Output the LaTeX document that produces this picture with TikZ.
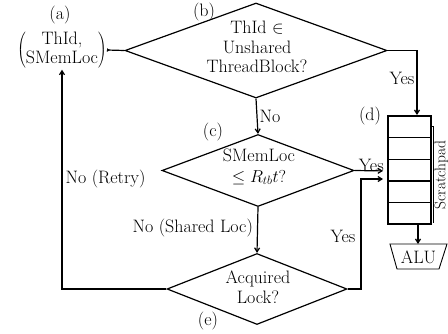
\documentclass[tikz,border=0pt]{standalone}
\usetikzlibrary{shapes.geometric,arrows.meta}
\begin{document}
\begin{tikzpicture}[x=1pt,y=-1pt,
  every node/.style={font=\fontsize{18}{19.5}\selectfont, inner sep=0pt},
  conn/.style={line width=1.2pt},
  arr/.style={conn,-{Straight Barb[length=4pt,width=5pt]}},
  dia/.style={diamond,draw,line width=1.2pt,align=center},
  lbl/.style={font=\fontsize{18}{19}\selectfont}]
\useasboundingbox (0,0) rectangle (448,333);
% node a
\node (a) at (62,50) {$\left(\begin{tabular}{@{}c@{}}ThId,\\SMemLoc\end{tabular}\right)$};
\node[lbl] (la) at (60,15) {(a)};
% diamond b
\node[dia,minimum width=262pt,minimum height=95pt] (b) at (256,50.5) {};
\node[align=center] (bt) at (257,47) {ThId $\in$\\Unshared\\ThreadBlock?};
\node[lbl] (lb) at (204,12) {(b)};
% diamond c
\node[dia,minimum width=192pt,minimum height=72pt] (c) at (258,170.5) {};
\node[align=center] (ct) at (259,167) {SMemLoc\\[1pt]$\leq R_{tb}t?$};
\node[lbl] (lc) at (213,132) {(c)};
% diamond e
\node[dia,minimum width=180pt,minimum height=71pt] (e) at (257,289) {};
\node[align=center] (et) at (258,287) {Acquired\\Lock?};
\node[lbl] (le) at (208,321) {(e)};
% scratchpad
\node[draw,line width=1.5pt,minimum width=43pt,minimum height=108pt] (d) at (409.5,170) {};
\draw[line width=1.4pt] (388,137.6) -- (431,137.6) (388,180.8) -- (431,180.8);
\draw[line width=0.7pt] (388,159.2) -- (431,159.2) (388,202.4) -- (431,202.4);
\node[lbl] (ld) at (370,116) {(d)};
\draw[line width=0.9pt] (431,126) -- (433.5,126) -- (433.5,223);
\node[rotate=90,anchor=north,font=\fontsize{15.5}{17}\selectfont] (sp) at (434.3,175) {Scratchpad};
% ALU
\node[lbl] (alu) at (418.5,257) {ALU};
\draw[line width=0.9pt] (390,244) -- (447,244) -- (439,269) -- (397,269) -- cycle;
\coordinate (alutop) at (418,244);
\coordinate (dbot) at (418,224);
\coordinate (dtop) at (417,115);
\coordinate (dl1) at (388,171);
\coordinate (dl2) at (388,179);
% connectors
\draw[conn,{Latex[reversed,length=3pt,width=4pt]}-] (a.east) -- (b.west);
\draw[arr] (b.east) -| (dtop) node[pos=0.72,anchor=east,xshift=-2pt] {Yes};
\draw[arr] (b.south) -- (c.north) node[midway,anchor=west,xshift=2pt] {No};
\draw[arr,shorten >=5pt] (c.east) -- (dl1) node[pos=0.5,anchor=south,yshift=-1pt] {Yes};
\draw[arr,shorten >=5pt] (e.east) -- (361,289) -- (361,179) -- (dl2);
\node (yes3) at (343,236) {Yes};
\draw[arr] (c.south) -- (e.north) node[midway,anchor=east,xshift=-4pt,yshift=2pt] {No (Shared Loc)};
\draw[arr] (e.west) -| (a.south) node[pos=0.75,anchor=west,xshift=3pt] {No (Retry)};
\draw[arr] (dbot) -- (alutop);
\end{tikzpicture}
\end{document}
